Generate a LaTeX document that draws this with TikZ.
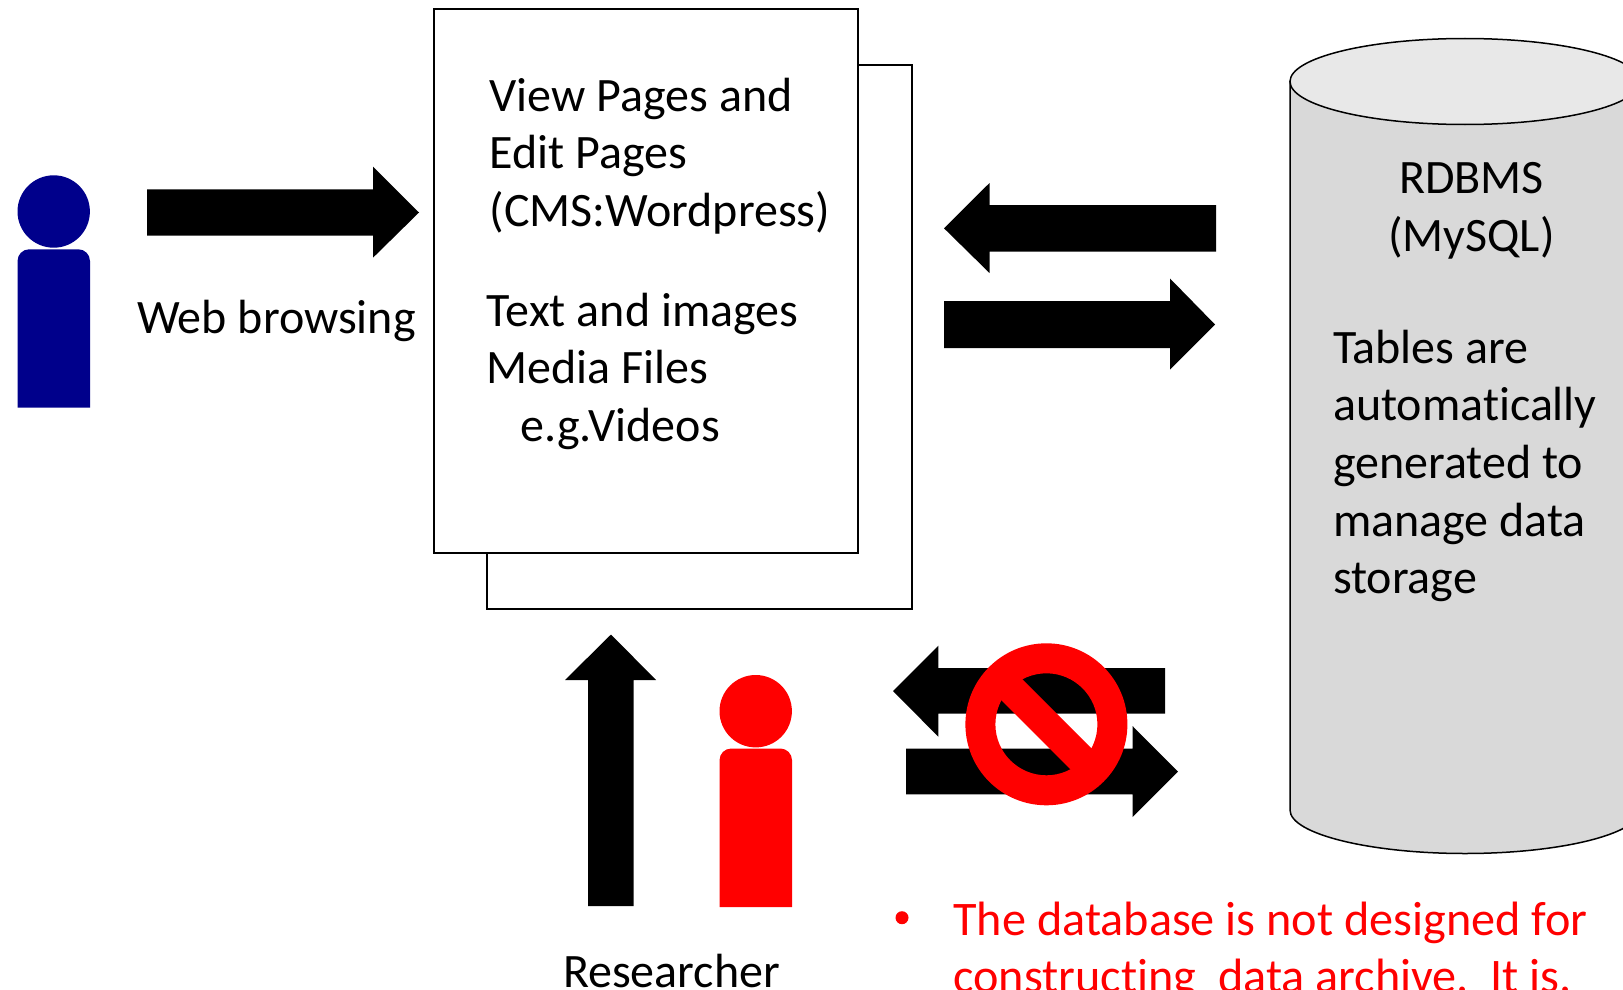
\documentclass[tikz,border=0pt]{standalone}
\usepackage{fontspec}
\setmainfont[Ligatures=CommonOff]{Carlito}
\definecolor{cylbody}{HTML}{D9D9D9}
\definecolor{cyltop}{HTML}{E8E8E8}
\definecolor{navyp}{HTML}{00008B}
\newcommand{\lst}{\rule{0pt}{40pt}}
\tikzset{
  pagebox/.style={draw=black,line width=1.5pt,fill=white},
  blockarrow/.style={fill=black,draw=none},
  bodytext/.style={inner sep=0pt,outer sep=0pt,align=left,anchor=north west,text=black,font=\fontsize{48}{57.6}\selectfont},
  centertext/.style={bodytext,anchor=north,align=center},
  redtext/.style={bodytext,text=red,font=\fontsize{48.2}{57.6}\selectfont},
  cyl/.style={draw=black,line width=1.5pt}
}
\begin{document}
\begin{tikzpicture}[x=1pt,y=-1pt]
\useasboundingbox (0,0) rectangle (1623,990);
\clip (0,0) rectangle (1623,990);
% pages
\draw[pagebox] (487,65) rectangle (912,609);
\draw[pagebox] (434,9) rectangle (858,553);
% cylinder
\draw[cyl,fill=cylbody] (1290,81.5) -- (1290,810)
  .. controls (1290,834) and (1370,853.5) .. (1465,853.5)
  .. controls (1560,853.5) and (1640,834) .. (1640,810) -- (1640,81.5) -- cycle;
\draw[cyl,fill=cyltop] (1465,81.5) ellipse [x radius=175,y radius=43];
% blue person
\fill[navyp] (53.7,211.5) circle [radius=36.2];
\fill[navyp] (17.5,407.7) [rounded corners=11.7pt] -- (17.5,249.3) -- (90,249.3) [sharp corners] -- (90,407.7) -- cycle;
% red person
\fill[red] (755.7,711.2) circle [radius=36.2];
\fill[red] (719.5,907) [rounded corners=11.7pt] -- (719.5,748.5) -- (792,748.5) [sharp corners] -- (792,907) -- cycle;
% block arrows
\fill[blockarrow] (147,189.3) -- (373,189.3) -- (373,166.7) -- (419,212.5) -- (373,257.7) -- (373,235.7) -- (147,235.7) -- cycle;
\fill[blockarrow] (1216,205) -- (989.5,205) -- (989.5,183) -- (944,228.3) -- (989.5,273) -- (989.5,251.5) -- (1216,251.5) -- cycle;
\fill[blockarrow] (944,301) -- (1170,301) -- (1170,278.5) -- (1215,324.5) -- (1170,369.5) -- (1170,348) -- (944,348) -- cycle;
\fill[blockarrow] (588,906) -- (588,680) -- (565,680) -- (611,634.5) -- (656,680) -- (633.5,680) -- (633.5,906) -- cycle;
\fill[blockarrow] (1165,668) -- (938.3,668) -- (938.3,645.7) -- (893,691) -- (938.3,736.7) -- (938.3,713.7) -- (1165,713.7) -- cycle;
\fill[blockarrow] (906,748.7) -- (1132.5,748.7) -- (1132.5,726) -- (1178,771.7) -- (1132.5,817) -- (1132.5,794.3) -- (906,794.3) -- cycle;
% prohibition sign
\fill[red,even odd rule] (1046.4,724.3) circle [radius=81] (1046.4,724.3) circle [radius=51];
\begin{scope}
\clip (1046.4,724.3) circle [radius=60];
\fill[red] (1005,662) -- (1109,766) -- (1088,787) -- (984,683) -- cycle;
\end{scope}
% texts
\node[bodytext] (webtxt) at (137,293.7) {\lst Web browsing};
\node[bodytext] (viewtxt) at (489.6,71) {\lst View Pages and\\\lst Edit Pages\\\lst (CMS:Wordpress)};
\node[bodytext] (mediatxt) at (486.8,286.3) {\lst Text and images\\\lst Media Files\\\lst\hspace*{34pt}e.g.Videos};
\node[centertext] (rdbms) at (1471.5,153.5) {\lst RDBMS\\\lst (MySQL)};
\node[bodytext] (tables) at (1333,323.3) {\lst Tables are\\\lst automatically\\\lst generated to\\\lst manage data\\\lst storage};
\node[bodytext] (researcher) at (563,947.5) {\lst Researcher};
\fill[red] (902,917.7) circle [radius=6.5];
\node[redtext] (redtxt) at (953.4,895) {\lst The database is not designed for\\\lst constructing\ \ data archive.\ \ It is.};
\end{tikzpicture}
\end{document}
